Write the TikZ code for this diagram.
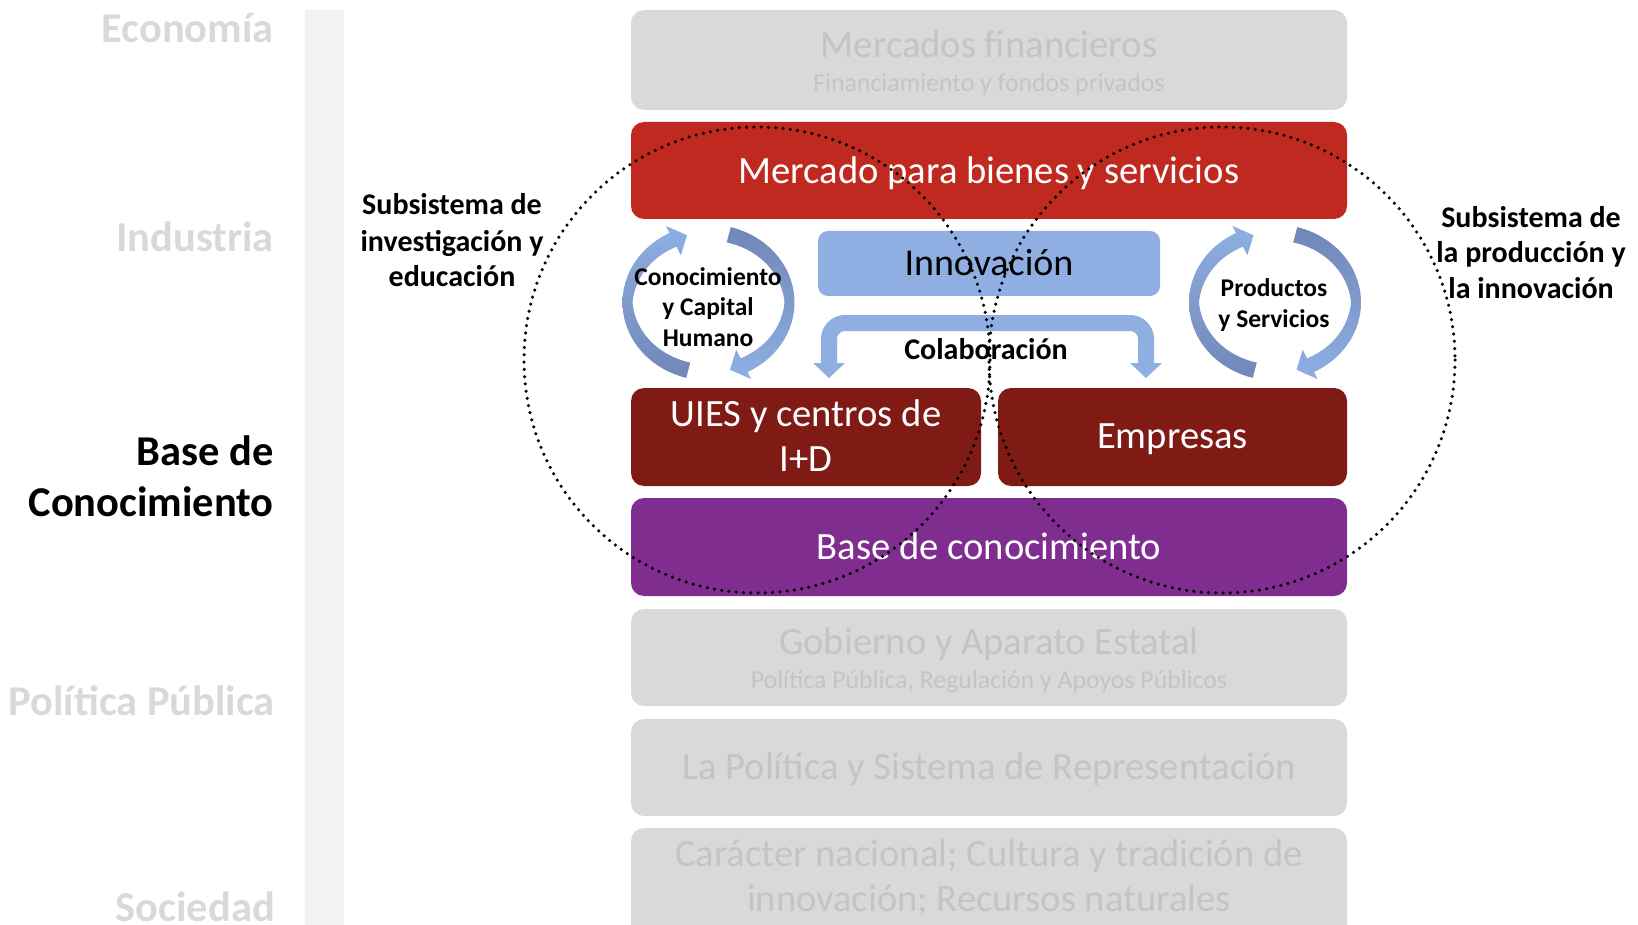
\documentclass[tikz,border=0pt]{standalone}
\usepackage{fontspec}
\setmainfont{Carlito}
\definecolor{gbox}{HTML}{D9D9D9}
\definecolor{gtext}{HTML}{C4C4C4}
\definecolor{glabel}{HTML}{D9D9D9}
\definecolor{gbar}{HTML}{F2F2F2}
\definecolor{redbox}{HTML}{C0291F}
\definecolor{darkred}{HTML}{7F1A15}
\definecolor{purplebox}{HTML}{7F2D8F}
\definecolor{innoblue}{HTML}{8FAFE3}
\definecolor{arrdark}{HTML}{7087B7}
\newcommand\ftitle{\fontsize{38.6}{46}\selectfont}
\newcommand\ftitlei{\fontsize{38}{46}\selectfont}
\newcommand\fsubt{\fontsize{25.8}{30}\selectfont}
\newcommand\fside{\fontsize{42.5}{50}\selectfont\bfseries}
\newcommand\fsubsys{\fontsize{30}{35}\selectfont\bfseries}
\newcommand\fcyc{\fontsize{25.5}{30}\selectfont\bfseries}
\newcommand\cycarrows{%
  \path[top color=innoblue, bottom color=arrdark]
    plot[domain=105:243, samples=60] ({86*cos(\x)},{78*sin(\x)})
    -- ({94*cos(243)},{86*sin(243)}) -- ({78*cos(254)},{70*sin(254)})
    -- ({61*cos(243)},{53*sin(243)})
    -- plot[domain=243:105, samples=60] ({(76-6*abs(sin(\x)))*cos(\x)},{(68-6*abs(sin(\x)))*sin(\x)}) -- cycle;
  \path[top color=arrdark, bottom color=innoblue]
    plot[domain=285:423, samples=60] ({86*cos(\x)},{78*sin(\x)})
    -- ({94*cos(423)},{86*sin(423)}) -- ({78*cos(434)},{70*sin(434)})
    -- ({61*cos(423)},{53*sin(423)})
    -- plot[domain=423:285, samples=60] ({(76-6*abs(sin(\x)))*cos(\x)},{(68-6*abs(sin(\x)))*sin(\x)}) -- cycle;
}
\tikzset{
  boxshape/.style={rectangle, rounded corners=13pt, inner sep=0pt, draw=none},
  txt/.style={inner sep=0pt, anchor=base},
  sidelab/.style={inner sep=0pt, anchor=base east, font=\fside},
  dotline/.style={line width=3.5pt, dash pattern=on 0pt off 7.3pt, line cap=round, black},
}
\begin{document}
\begin{tikzpicture}[x=1pt,y=-1pt]
\useasboundingbox (0,0) rectangle (1638,925);
% vertical bar
\fill[gbar] (305,10) rectangle (344,925);
% side labels
\node[sidelab, text=glabel] (lecon) at (274,42.5) {Economía};
\node[sidelab, text=glabel] (lind) at (274,251.5) {Industria};
\node[sidelab, text=black] (lbase1) at (274,465.6) {Base de};
\node[sidelab, text=black] (lbase2) at (274,516.8) {Conocimiento};
\node[sidelab, text=glabel] (lpol) at (275,715.3) {Política Pública};
\node[sidelab, text=glabel] (lsoc) at (275,921) {Sociedad};
% boxes
\node[boxshape, fill=gbox, minimum width=716pt, minimum height=100pt] (mf) at (989,60) {};
\node[boxshape, fill=redbox, minimum width=716pt, minimum height=97pt] (mb) at (989,170.5) {};
\node[boxshape, fill=innoblue, rounded corners=10pt, minimum width=342pt, minimum height=65pt] (inn) at (989,263.5) {};
\node[boxshape, fill=darkred, minimum width=350pt, minimum height=98pt] (uies) at (806,437) {};
\node[boxshape, fill=darkred, minimum width=349pt, minimum height=98pt] (emp) at (1172.5,437) {};
\node[boxshape, fill=purplebox, minimum width=716pt, minimum height=98pt] (base) at (989,547) {};
\node[boxshape, fill=gbox, minimum width=716pt, minimum height=97pt] (gob) at (989,657.5) {};
\node[boxshape, fill=gbox, minimum width=716pt, minimum height=97pt] (lapol) at (989,767.5) {};
\node[boxshape, fill=gbox, minimum width=716pt, minimum height=110pt] (car) at (989,883) {};
% box texts
\node[txt, font=\ftitle, text=gtext] (mft) at (989,58) {Mercados financieros};
\node[txt, font=\fsubt, text=gtext] (mfs) at (989,91.6) {Financiamiento y fondos privados};
\node[txt, font=\ftitle, text=white] (mbt) at (989,183.3) {Mercado para bienes y servicios};
\node[txt, font=\ftitlei, text=black] (innt) at (989,275.2) {Innovación};
\node[txt, font=\ftitle, text=white] (uiest1) at (806,426.7) {UIES y centros de};
\node[txt, font=\ftitle, text=white] (uiest2) at (806,471.6) {I+D};
\node[txt, font=\ftitle, text=white] (empt) at (1172.5,448.6) {Empresas};
\node[txt, font=\ftitle, text=white] (baset) at (989,559.4) {Base de conocimiento};
\node[txt, font=\ftitle, text=gtext] (gobt) at (989,654.4) {Gobierno y Aparato Estatal};
\node[txt, font=\fsubt, text=gtext] (gobs) at (989,688) {Política Pública, Regulación y Apoyos Públicos};
\node[txt, font=\ftitle, text=gtext] (lapolt) at (989,779.8) {La Política y Sistema de Representación};
\node[txt, font=\ftitle, text=gtext] (cart1) at (989,866.5) {Carácter nacional; Cultura y tradición de};
\node[txt, font=\ftitle, text=gtext] (cart2) at (989,911.4) {innovación; Recursos naturales};
% subsystem labels
\node[txt, font=\fsubsys] (ls1) at (452,215) {Subsistema de};
\node[txt, font=\fsubsys] (ls2) at (452,251.5) {investigación y};
\node[txt, font=\fsubsys] (ls3) at (452,287) {educación};
\node[txt, font=\fsubsys] (rs1) at (1531,227.5) {Subsistema de};
\node[txt, font=\fsubsys] (rs2) at (1531,263) {la producción y};
\node[txt, font=\fsubsys] (rs3) at (1531,298.6) {la innovación};
% collaboration bracket
\draw[innoblue, line width=16pt, rounded corners=16pt] (829,366) -- (829,323) -- (1146,323) -- (1146,366);
\fill[innoblue] (813,363) -- (845,363) -- (829,378) -- cycle;
\fill[innoblue] (1130,363) -- (1162,363) -- (1146,378) -- cycle;
\node[txt, font=\fsubsys] (colab) at (986,359) {Colaboración};
% cycle arrows left
\begin{scope}[shift={(708.5,302.5)}]
\cycarrows
\end{scope}
\node[txt, font=\fcyc] (c1) at (708,286) {Conocimiento};
\node[txt, font=\fcyc] (c2) at (708,316) {y Capital};
\node[txt, font=\fcyc] (c3) at (708,346.5) {Humano};
% cycle arrows right
\begin{scope}[shift={(1275,302.5)}]
\cycarrows
\end{scope}
\node[txt, font=\fcyc] (p1) at (1274,296.3) {Productos};
\node[txt, font=\fcyc] (p2) at (1274,327.6) {y Servicios};
% dotted circles
\draw[dotline] (757,360) circle[radius=233];
\draw[dotline] (1222,360) circle[radius=233];
\end{tikzpicture}
\end{document}
